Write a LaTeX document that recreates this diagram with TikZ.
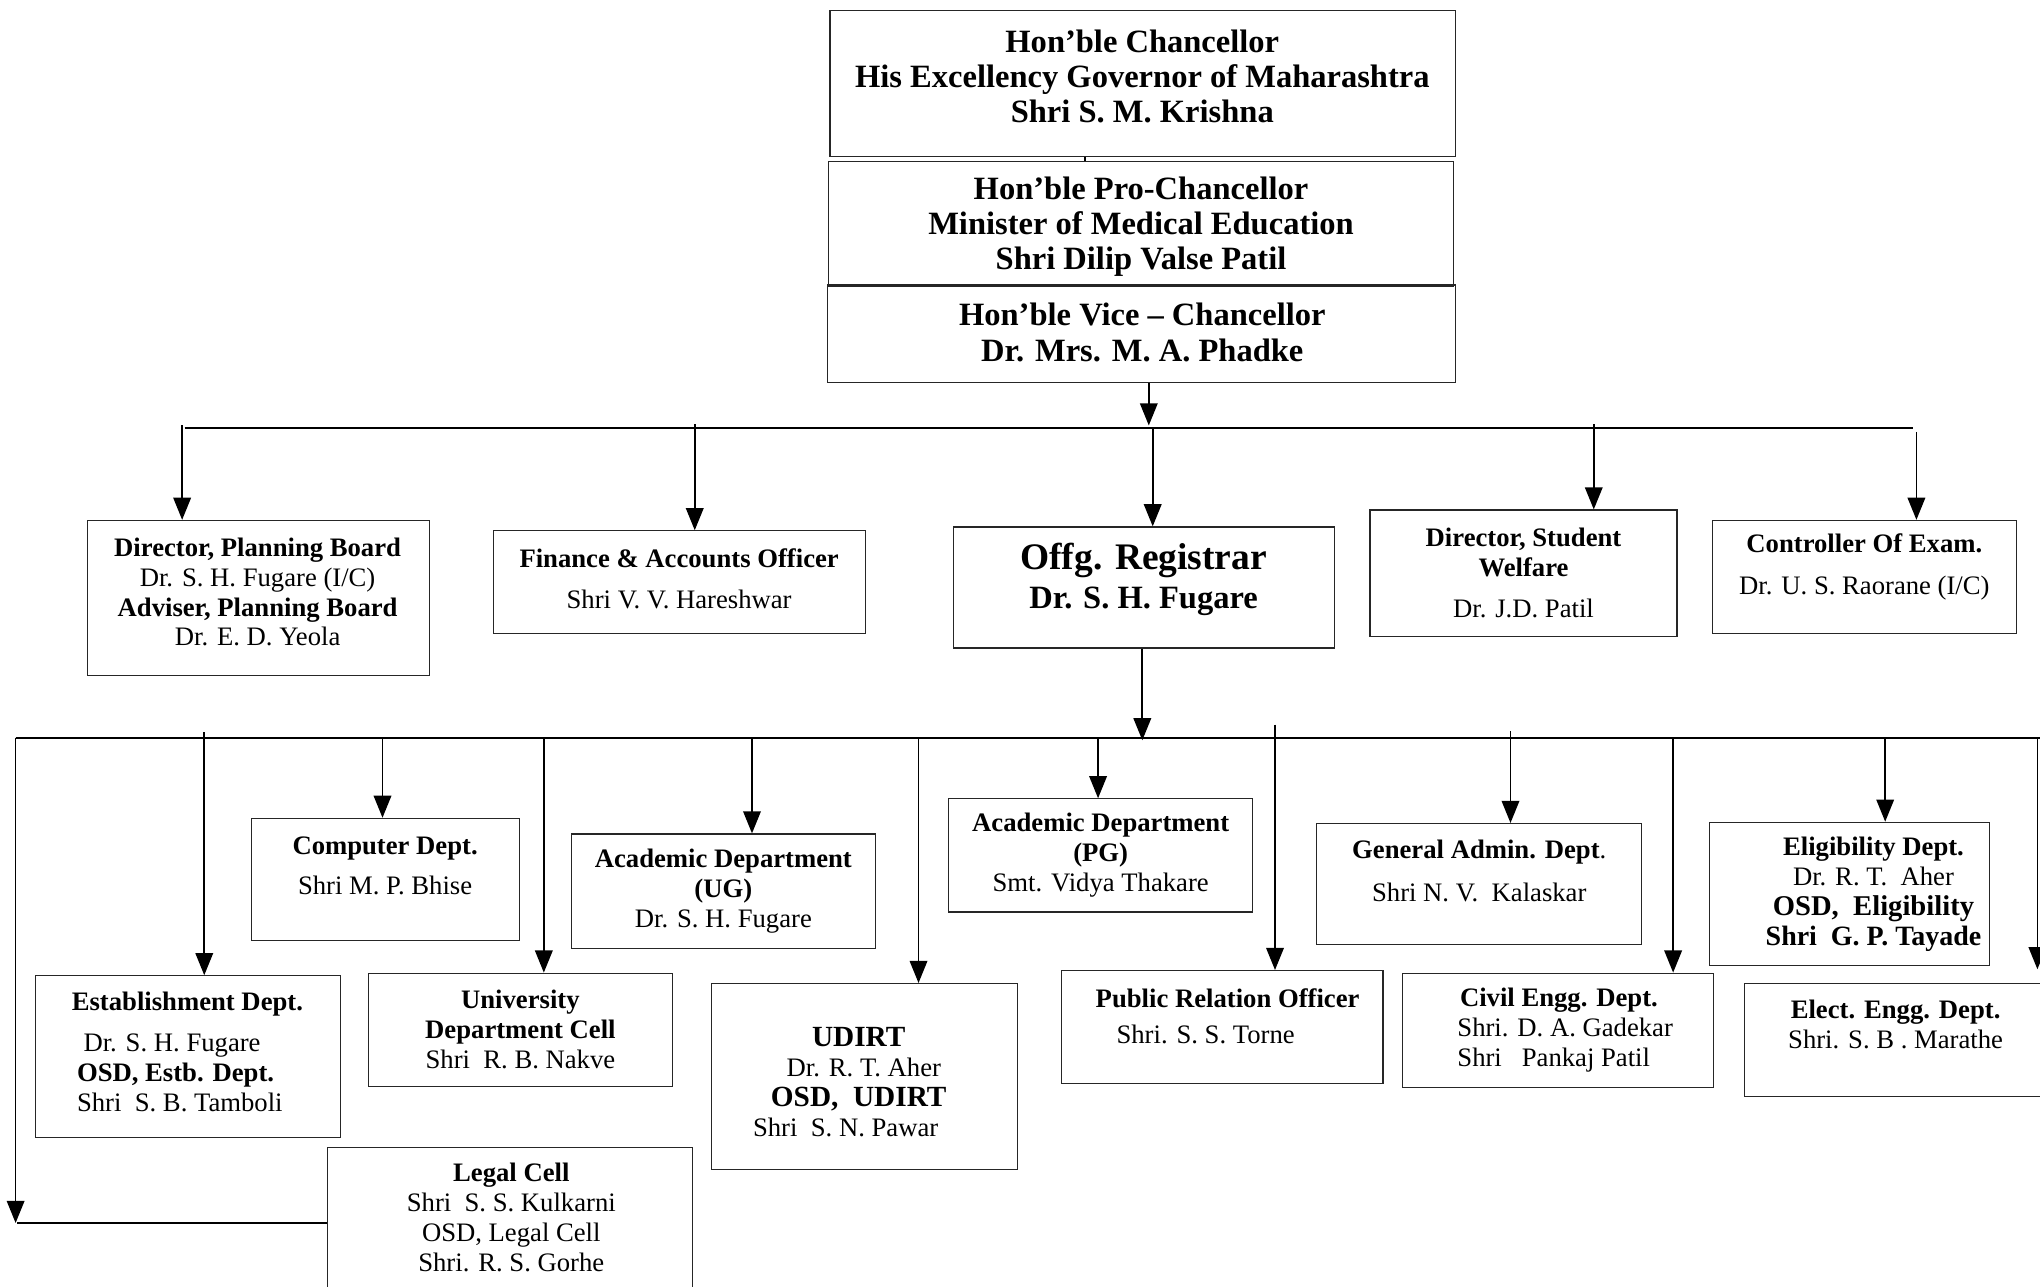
\documentclass[tikz,border=0pt]{standalone}
\usepackage{fontspec}
\setmainfont{Liberation Serif}
\usetikzlibrary{arrows.meta,fit}
\begin{document}
\begin{tikzpicture}[x=1pt,y=-1pt,
 box/.style={draw=black!85,line width=0.9pt,inner sep=0pt},
 arr/.style={line width=1.3pt,-{Triangle[length=17pt,width=13.5pt]}},
 bus/.style={line width=1.8pt},
 ln/.style={line width=1.3pt},
 txt/.style={inner sep=0pt,align=center,font=\fontsize{20.5}{23}\selectfont},
 txl/.style={inner sep=0pt,align=left,anchor=west,font=\fontsize{20.5}{23}\selectfont},
 big/.style={inner sep=0pt,align=center,font=\fontsize{25}{27}\selectfont\bfseries}]
\useasboundingbox (0,0) rectangle (1568,989);
% boxes
\node[box,fit={(638,8) (1119,120)}] (ch) {};
\node[box,fit={(637,124) (1117,220)}] (pc) {};
\node[box,fit={(636,219) (1119,294)}] (vc) {};
\node[box,fit={(67,400) (330,519)}] (dpb) {};
\node[box,fit={(379,408) (665,487)}] (fin) {};
\node[box,fit={(733,405) (1026,498)}] (reg) {};
\node[box,fit={(1053,392) (1289,489)}] (dsw) {};
\node[box,fit={(1316,400) (1550,487)}] (coe) {};
\node[box,fit={(193,629) (399,723)}] (comp) {};
\node[box,fit={(439,641) (673,729)}] (ug) {};
\node[box,fit={(729,614) (963,701)}] (pg) {};
\node[box,fit={(1012,633) (1262,726)}] (ga) {};
\node[box,fit={(1314,632) (1529,742)}] (elig) {};
\node[box,fit={(27,750) (262,874)}] (est) {};
\node[box,fit={(283,748) (517,835)}] (udc) {};
\node[box,fit={(547,756) (782,899)}] (udirt) {};
\node[box,fit={(816,746) (1063,833)}] (pro) {};
\node[box,fit={(1078,748) (1317,836)}] (civil) {};
\node[box,fit={(1341,756) (1580,843)}] (elect) {};
\node[box,fit={(252,882) (532,1000)}] (legal) {};
% texts
\node[big] (ch-t) at (878,59) {Hon’ble Chancellor\\His Excellency Governor of Maharashtra\\Shri S. M. Krishna};
\node[big] (pc-t) at (877,174.5) {Hon’ble Pro-Chancellor\\Minister of Medical Education\\Shri Dilip Valse Patil};
\node[big] (vc-t) at (878,255.5) {Hon’ble Vice – Chancellor\\Dr. Mrs. M. A. Phadke};
\node[txt] (dpb-t) at (198,455) {\textbf{Director, Planning Board}\\Dr. S. H. Fugare (I/C)\\\textbf{Adviser, Planning Board}\\Dr. E. D. Yeola};
\node[txt] (fin-t) at (522,445) {\textbf{Finance \& Accounts Officer}\\[9pt]Shri V. V. Hareshwar};
\node[txt,font=\fontsize{25}{30}\selectfont\bfseries] (reg-t) at (879,445) {{\fontsize{28.8}{30}\selectfont Offg. Registrar}\\Dr. S. H. Fugare};
\node[txt] (dsw-t) at (1171,440.5) {\textbf{Director, Student}\\\textbf{Welfare}\\[9pt]Dr. J.D. Patil};
\node[txt] (coe-t) at (1433,436) {\textbf{Controller Of Exam.}\\[9pt]Dr. U. S. Raorane (I/C)};
\node[txt] (comp-t) at (296,665.5) {\textbf{Computer Dept.}\\[8pt]Shri M. P. Bhise};
\node[txt] (ug-t) at (556,685) {\textbf{Academic Department}\\\textbf{(UG)}\hspace*{22pt}\\Dr. S. H. Fugare};
\node[txt] (pg-t) at (846,657.5) {\textbf{Academic Department}\\\textbf{(PG)}\hspace*{26pt}\\Smt. Vidya Thakare};
\node[txt] (ga-t) at (1137,669.5) {\textbf{General Admin. Dept}.\\[10pt]Shri N. V.\ \ Kalaskar};
\node[txt] (elig-t) at (1440,687.5) {\textbf{Eligibility Dept.}\\Dr. R. T.\ \ Aher\\{\bfseries\fontsize{22}{23}\selectfont OSD,\ \ Eligibility}\\{\bfseries\fontsize{21.5}{23}\selectfont Shri\ \ G. P. Tayade}};
\node[txl] (est-t) at (55,808.5) {\textbf{Establishment Dept.}\\[8pt]\hspace*{9pt}Dr. S. H. Fugare\\\hspace*{4pt}\textbf{OSD, Estb. Dept.}\\\hspace*{4pt}Shri\ \ S. B. Tamboli};
\node[txt] (udc-t) at (400,791) {\textbf{University}\\\textbf{Department Cell}\\Shri\ \ R. B. Nakve};
\node[txt] (udirt-t) at (660,831.5) {{\bfseries\fontsize{22.5}{23}\selectfont UDIRT}\\\hspace*{8pt}Dr. R. T. Aher\\{\bfseries\fontsize{22.5}{23}\selectfont OSD,\ \ UDIRT}\\Shri\ \ S. N. Pawar\hspace*{20pt}};
\node[txl] (pro-t) at (842,781) {\textbf{Public Relation Officer}\\[5pt]\hspace*{16pt}Shri. S. S. Torne};
\node[txl] (civil-t) at (1120,791.5) {\hspace*{2pt}\textbf{Civil Engg. Dept.}\\Shri. D. A. Gadekar\\Shri\ \ \ Pankaj Patil};
\node[txt] (elect-t) at (1457,787.5) {\textbf{Elect. Engg. Dept.}\\Shri. S. B . Marathe};
\node[txt] (legal-t) at (393,935.5) {\textbf{Legal Cell}\\Shri\ \ S. S. Kulkarni\\OSD, Legal Cell\\Shri. R. S. Gorhe};
% top connectors
\coordinate (c12) at (834,0);
\draw[ln] (ch.south -| c12) -- (pc.north -| c12);
\coordinate (v) at (883,327);
\draw[arr] (vc.south -| v) -- (v);
% bus 1
\coordinate (b1l) at (142,329);
\coordinate (b1r) at (1470,329);
\draw[bus] (b1l) -- (b1r);
\coordinate (a1) at (140,327);
\coordinate (a2) at (534,326);
\coordinate (a3) at (886,329);
\coordinate (a4) at (1225,326);
\coordinate (a5) at (1473,332);
\draw[arr] (a1) -- (a1 |- dpb.north);
\draw[arr] (a2) -- (a2 |- fin.north);
\draw[arr] (a3) -- (a3 |- reg.north);
\draw[arr] (a4) -- (a4 |- dsw.north);
\draw[arr] (a5) -- (a5 |- coe.north);
% bus 2
\coordinate (r) at (878,569);
\draw[arr] (reg.south -| r) -- (r);
\coordinate (b2l) at (12,567);
\coordinate (b2r) at (1580,567);
\draw[bus] (b2l) -- (b2r);
\coordinate (lc) at (12,940);
\draw[arr] (b2l) -- (lc);
\draw[ln] (legal.west |- lc) -- (13,940);
\coordinate (d1) at (157,563);
\coordinate (d2) at (294,567);
\coordinate (d3) at (418,567);
\coordinate (d4) at (578,567);
\coordinate (d5) at (706,567);
\coordinate (d6) at (844,567);
\coordinate (d7) at (980,557);
\coordinate (d8) at (1161,562);
\coordinate (d9) at (1286,567);
\coordinate (d10) at (1449,567);
\coordinate (d11) at (1566,567);
\coordinate (e11) at (1566,745);
\draw[arr] (d1) -- (d1 |- est.north);
\draw[arr] (d2) -- (d2 |- comp.north);
\draw[arr] (d3) -- (d3 |- udc.north);
\draw[arr] (d4) -- (d4 |- ug.north);
\draw[arr] (d5) -- (d5 |- udirt.north);
\draw[arr] (d6) -- (d6 |- pg.north);
\draw[arr] (d7) -- (d7 |- pro.north);
\draw[arr] (d8) -- (d8 |- ga.north);
\draw[arr] (d9) -- (d9 |- civil.north);
\draw[arr] (d10) -- (d10 |- elig.north);
\draw[arr] (d11) -- (e11);
\end{tikzpicture}
\end{document}
